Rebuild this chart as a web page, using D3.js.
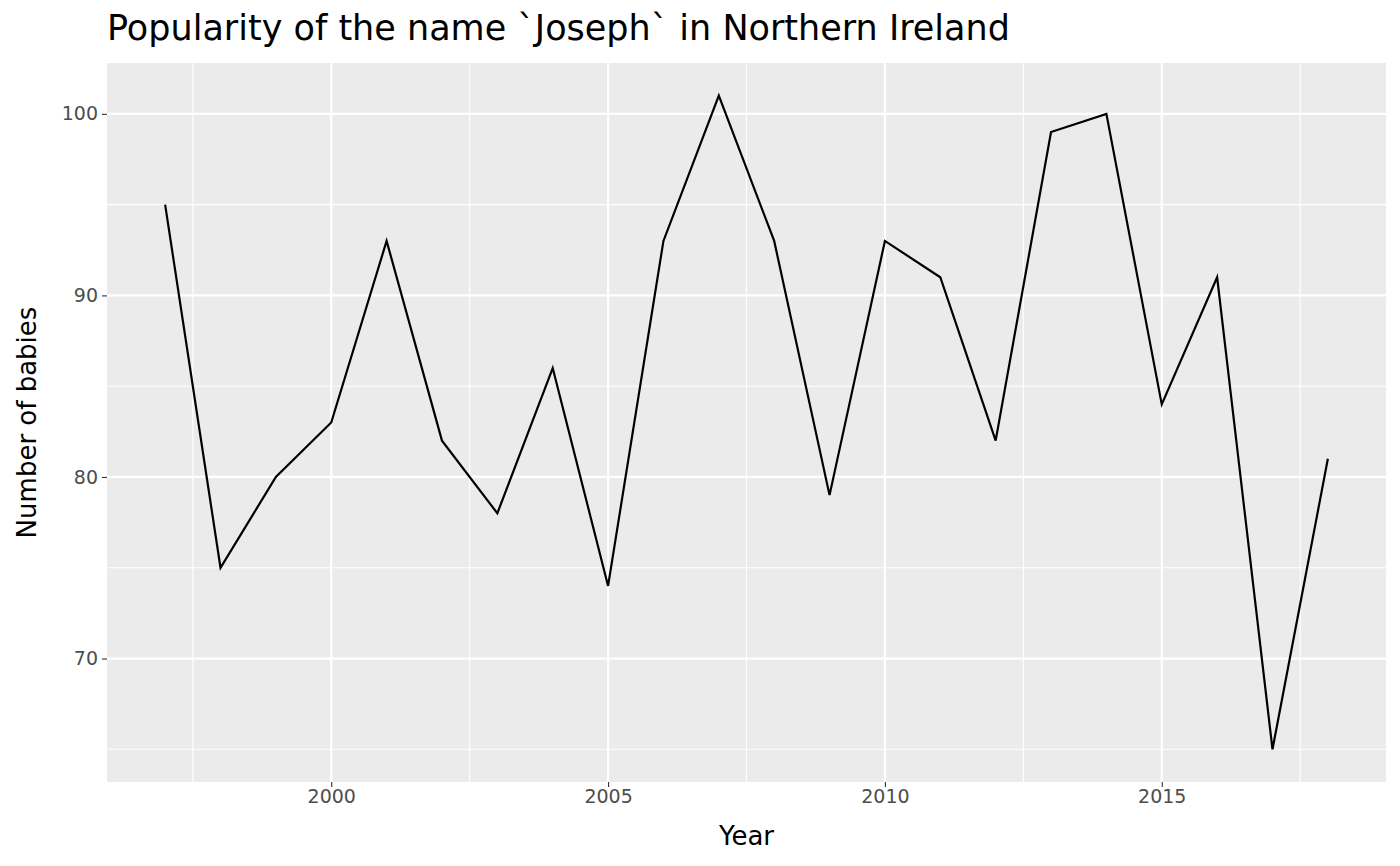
<!DOCTYPE html>
<html><head><meta charset="utf-8">
<script src="https://cdn.jsdelivr.net/npm/d3@7"></script>
<style>body{margin:0;background:#fff;font-family:"DejaVu Sans",sans-serif}</style>
</head><body><div id="chart"></div>
<script>
var years = [1997,1998,1999,2000,2001,2002,2003,2004,2005,2006,2007,2008,2009,2010,2011,2012,2013,2014,2015,2016,2017,2018];
var babies = [95,75,80,83,93,82,78,86,74,93,101,93,79,93,91,82,99,100,84,91,65,81];
var xTicks = [2000,2005,2010,2015];
var yTicks = [70,80,90,100];
var data = years.map((y,i)=>({year:y, n:babies[i]}));

var margin = {top:63,right:14,bottom:84,left:107},
  width = 1400 - margin.left - margin.right,
  height = 866 - margin.top - margin.bottom;
var root = d3.select("#chart").append("svg").attr("width",1400).attr("height",866)
  .style("font-family","DejaVu Sans");
var svg = root.append("g").attr("transform",`translate(${margin.left},${margin.top})`);

var xr = d3.extent(years), xp = (xr[1]-xr[0])*0.05;
var x = d3.scaleLinear().domain([xr[0]-xp, xr[1]+xp]).range([0,width]);
var yr = d3.extent(babies), yp = (yr[1]-yr[0])*0.05;
var y = d3.scaleLinear().domain([yr[0]-yp, yr[1]+yp]).range([height,0]);

svg.append("rect").attr("width",width).attr("height",height).attr("fill","#ebebeb");
// minor grid
var xMinor = [1997.5,2002.5,2007.5,2012.5,2017.5];
var yMinor = [65,75,85,95];
svg.selectAll(".xm").data(xMinor).enter().append("line")
  .attr("x1",d=>x(d)).attr("x2",d=>x(d)).attr("y1",0).attr("y2",height)
  .attr("stroke","#fff").attr("stroke-width",1.1);
svg.selectAll(".ym").data(yMinor).enter().append("line")
  .attr("y1",d=>y(d)).attr("y2",d=>y(d)).attr("x1",0).attr("x2",width)
  .attr("stroke","#fff").attr("stroke-width",1.1);
svg.selectAll(".xg").data(xTicks).enter().append("line")
  .attr("x1",d=>x(d)).attr("x2",d=>x(d)).attr("y1",0).attr("y2",height)
  .attr("stroke","#fff").attr("stroke-width",2.2);
svg.selectAll(".yg").data(yTicks).enter().append("line")
  .attr("y1",d=>y(d)).attr("y2",d=>y(d)).attr("x1",0).attr("x2",width)
  .attr("stroke","#fff").attr("stroke-width",2.2);

var xa = svg.append("g").attr("transform",`translate(0,${height})`)
  .call(d3.axisBottom(x).tickValues(xTicks).tickFormat(d3.format("d")).tickSize(5).tickPadding(3));
var ya = svg.append("g")
  .call(d3.axisLeft(y).tickValues(yTicks).tickSize(5).tickPadding(4));
[xa,ya].forEach(a=>{
  a.select(".domain").remove();
  a.selectAll("line").attr("stroke","#333").attr("stroke-width",1.1);
  a.selectAll("text").attr("fill","#4d4d4d").style("font-size","19px").style("font-family","DejaVu Sans");
});

var line = d3.line().x(d=>x(d.year)).y(d=>y(d.n));
svg.append("path").datum(data).attr("fill","none").attr("stroke","#000").attr("stroke-width",2.2).attr("d",line);

root.append("text").attr("x",107).attr("y",40).attr("font-size",35)
  .text("Popularity of the name `Joseph` in Northern Ireland");
root.append("text").attr("x",margin.left+width/2).attr("y",845).attr("text-anchor","middle")
  .attr("font-size",26).text("Year");
root.append("text").attr("transform",`translate(36,${margin.top+height/2}) rotate(-90)`)
  .attr("text-anchor","middle").attr("font-size",26).text("Number of babies");
</script></body></html>
